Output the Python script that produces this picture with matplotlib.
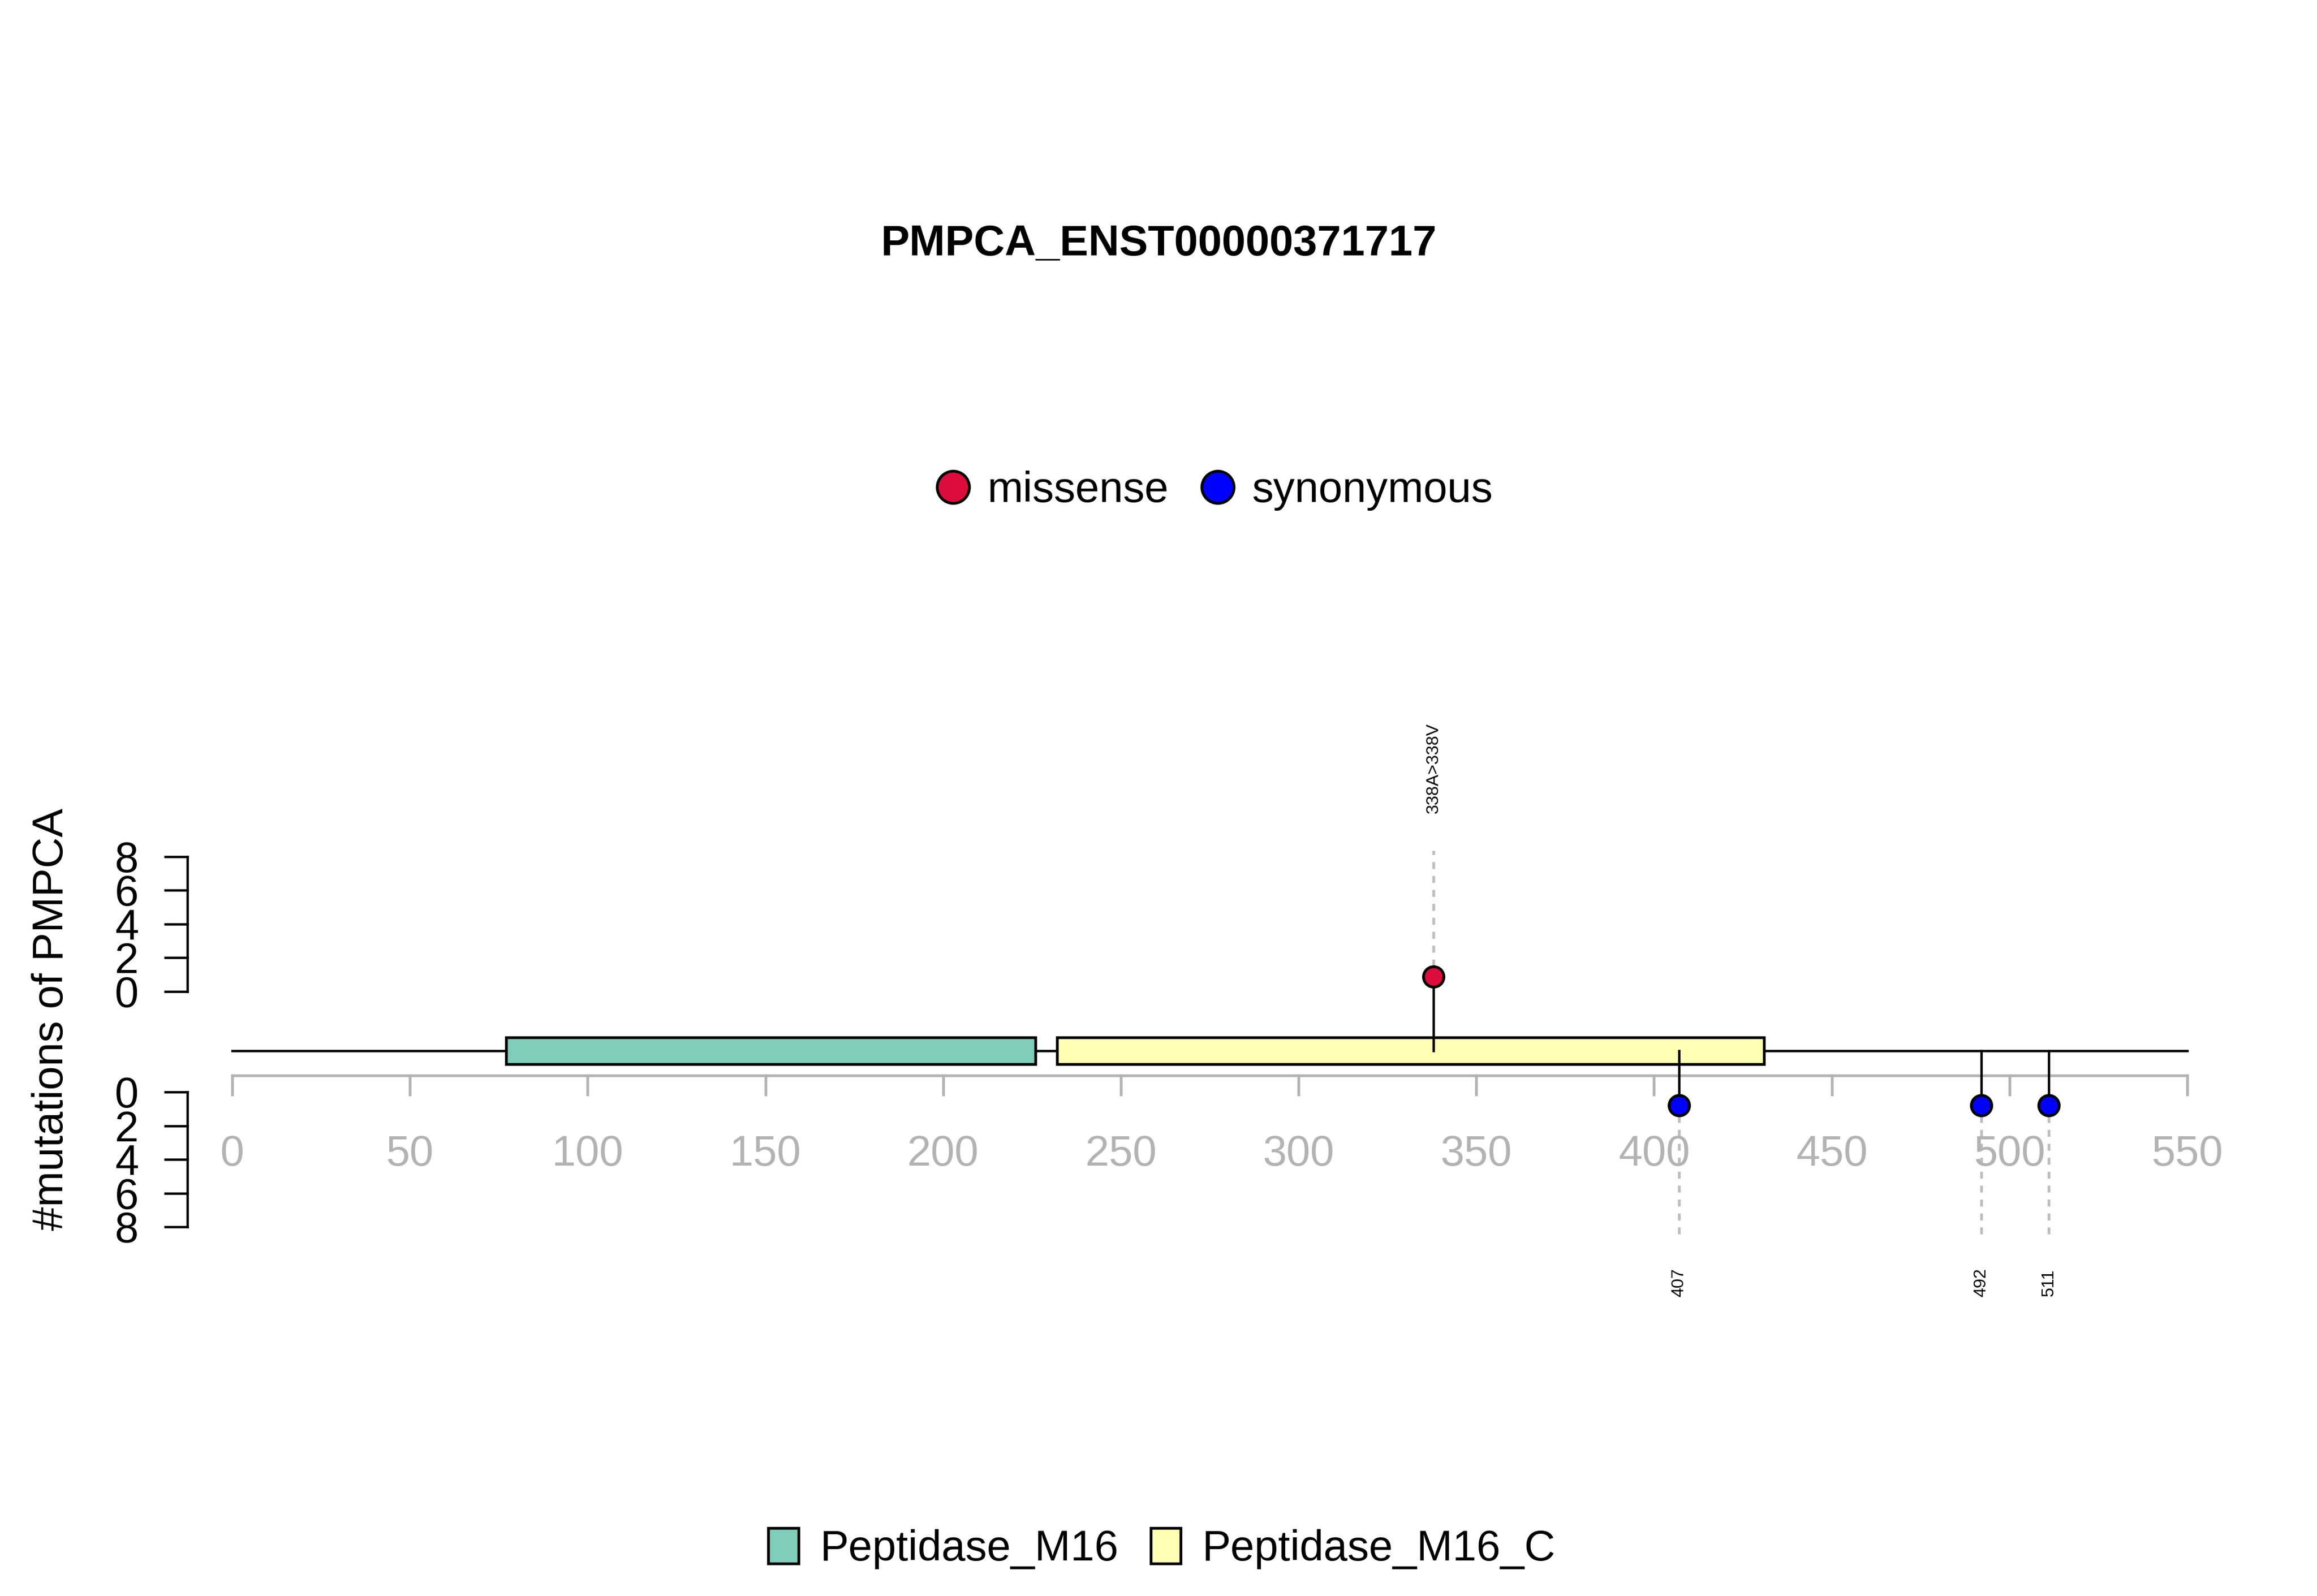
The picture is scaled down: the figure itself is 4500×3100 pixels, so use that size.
import matplotlib
matplotlib.use("Agg")
from matplotlib import pyplot as plt
from matplotlib.lines import Line2D
from matplotlib.patches import Patch, Rectangle

plt.rcParams['font.family'] = ['Liberation Sans', 'DejaVu Sans']

# 数据
gene = "PMPCA"
title = "PMPCA_ENST00000371717"
protein_len = 550
x_ticks = list(range(0, 551, 50))

domain_names = ["Peptidase_M16", "Peptidase_M16_C"]
domain_start = [77, 232]
domain_end = [226, 431]
domain_colors = ["#7FCDBB", "#FFFFB3"]

# 上方突变 (missense)
up_pos = [338]
up_count = [1]
up_labels = ["338A>338V"]
# 下方突变 (synonymous)
down_pos = [407, 492, 511]
down_count = [1, 1, 1]
down_labels = ["407", "492", "511"]

count_ticks = [0, 2, 4, 6, 8]

# 布局 (y 以像素行为单位, 从上往下)
W, H = 4500, 3100
backbone_y = 2041
box_half = 26
xaxis_y = 2089
up_zero, down_zero = 1926, 2121
unit = 32.8          # 每个计数对应的像素
axis_x = 364         # 计数轴所在像素列
FS = 20

px_per = (4248 - 451) / protein_len
x_left = -451 / px_per
x_right = protein_len + (W - 4248) / px_per

fig = plt.figure(figsize=(15, 31 / 3), dpi=300)
ax = fig.add_axes([0, 0, 1, 1])
ax.set_xlim(x_left, x_right)
ax.set_ylim(H, 0)
ax.axis("off")

def px2x(px):
    return x_left + px / px_per

# 标题
ax.text(px2x(2250), 474, title, ha="center", va="center",
        fontsize=FS, fontweight="bold")

# 主干线
ax.plot([0, protein_len], [backbone_y, backbone_y], color="black", lw=1.1, zorder=2)

# 结构域
for s, e, c in zip(domain_start, domain_end, domain_colors):
    ax.add_patch(Rectangle((s, backbone_y - box_half), e - s, 2 * box_half,
                           facecolor=c, edgecolor="black", lw=1.3, zorder=3))

# x 轴
grey = "#B3B3B3"
ax.plot([0, protein_len], [xaxis_y, xaxis_y], color=grey, lw=1.3, zorder=1)
for t in x_ticks:
    ax.plot([t, t], [xaxis_y, xaxis_y + 37], color=grey, lw=1.3, zorder=1)
    ax.text(t, 2242, str(t), ha="center", va="center", color=grey, fontsize=FS)

# 计数轴
ax_x = px2x(axis_x)
tick_len = 43 / px_per
for zero, sign in [(up_zero, -1), (down_zero, 1)]:
    ax.plot([ax_x, ax_x], [zero, zero + sign * 8 * unit], color="black", lw=1.1)
    for c in count_ticks:
        yy = zero + sign * c * unit
        ax.plot([ax_x - tick_len, ax_x], [yy, yy], color="black", lw=1.1)
        ax.text(px2x(246), yy + 8, str(c), ha="center", va="center", fontsize=FS)

ax.text(px2x(100), 1980, "#mutations of " + gene, rotation=90,
        ha="center", va="center", fontsize=FS)

# 上方棒棒糖
for p, c, lab in zip(up_pos, up_count, up_labels):
    yy = up_zero - c * unit + 4
    ax.plot([p, p], [backbone_y, yy], color="black", lw=1.1, zorder=4)
    ax.plot([p, p], [yy - 20, up_zero - 8 * unit - 12], color="#BEBEBE", lw=1.3,
            ls=(0, (2.5, 2.5)), zorder=1)
    ax.plot(p, yy, "o", ms=9.5, mfc="#DC0C3C", mec="black", mew=1.3, zorder=5)
    ax.text(p, 1492, lab, rotation=90, ha="center", va="center", fontsize=8)

# 下方棒棒糖
for p, c, lab in zip(down_pos, down_count, down_labels):
    yy = down_zero + c * unit - 7
    ax.plot([p, p], [backbone_y, yy], color="black", lw=1.1, zorder=4)
    ax.plot([p, p], [yy + 20, down_zero + 8 * unit + 14], color="#BEBEBE", lw=1.3,
            ls=(0, (2.5, 2.5)), zorder=1)
    ax.plot(p, yy, "o", ms=9.5, mfc="#0000FF", mec="black", mew=1.3, zorder=5)
    ax.text(p, 2491, lab, rotation=90, ha="center", va="center", fontsize=8)

# 图例: 突变类型
h1 = [Line2D([], [], ls="", marker="o", ms=15, mfc="#DC0C3C", mec="black", mew=1.3),
      Line2D([], [], ls="", marker="o", ms=15, mfc="#0000FF", mec="black", mew=1.3)]
fig.legend(h1, ["missense", "synonymous"], loc="center", ncol=2,
           bbox_to_anchor=(0.5223, 0.6925), frameon=False, fontsize=FS,
           handletextpad=0.2, columnspacing=0.55, handlelength=1.2)

# 图例: 结构域
h2 = [Patch(facecolor=c, edgecolor="black", lw=1.3) for c in domain_colors]
fig.legend(h2, domain_names, loc="center", ncol=2,
           bbox_to_anchor=(0.5015, 0.0297), frameon=False, fontsize=FS,
           handletextpad=0.5, columnspacing=0.75, handlelength=0.7,
           handleheight=0.9)

fig.savefig("out.png", dpi=300)
